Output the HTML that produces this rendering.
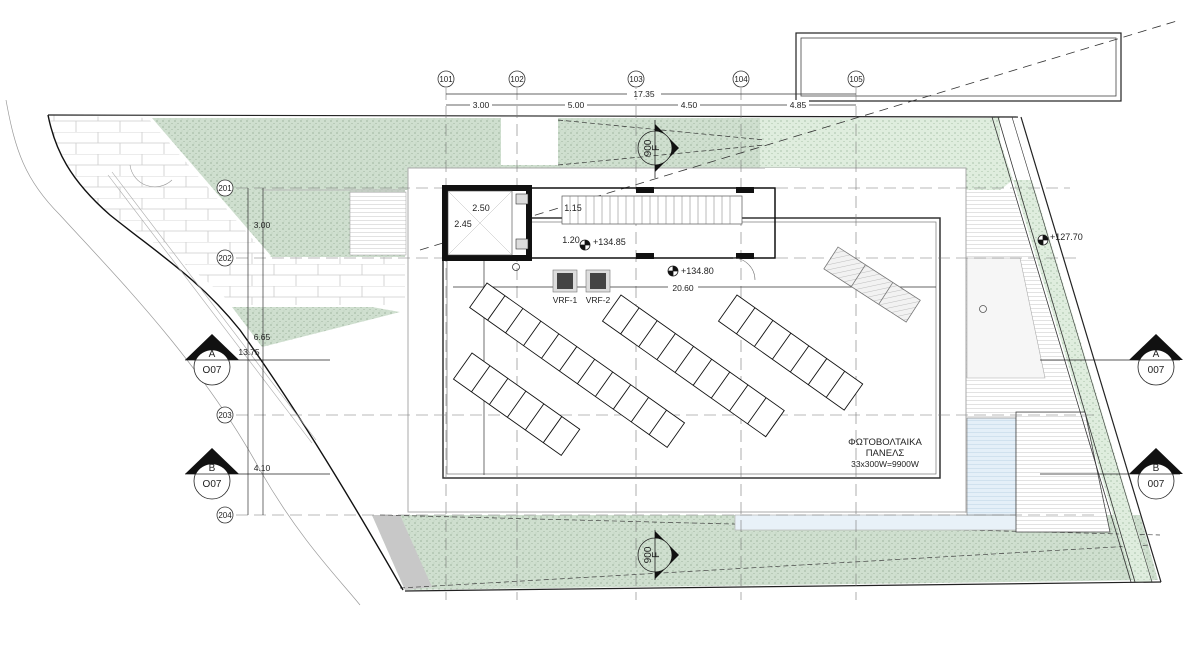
<!DOCTYPE html>
<html><head><meta charset="utf-8"><style>
html,body{margin:0;padding:0;background:#fff;width:1194px;height:662px;overflow:hidden}
svg{display:block}
text{font-family:"Liberation Sans","DejaVu Sans",sans-serif;fill:#222}
</style></head><body>
<svg width="1194" height="662" viewBox="0 0 1194 662" xmlns="http://www.w3.org/2000/svg">
<defs>
<pattern id="dots" width="6" height="6" patternUnits="userSpaceOnUse">
<rect width="6" height="6" fill="#cfdfcf"/>
<circle cx="1" cy="1" r="0.6" fill="#7f9a7f"/><circle cx="4" cy="3.5" r="0.5" fill="#90a890"/><circle cx="2" cy="5" r="0.4" fill="#a0b8a0"/>
</pattern>
<pattern id="dotsL" width="6" height="6" patternUnits="userSpaceOnUse">
<rect width="6" height="6" fill="#dfedde"/>
<circle cx="1" cy="1" r="0.6" fill="#8aa88a"/><circle cx="4" cy="3.5" r="0.5" fill="#9ab69a"/>
</pattern>
<pattern id="brick" width="44" height="22" patternUnits="userSpaceOnUse">
<rect width="44" height="22" fill="#fff"/>
<path d="M0 0H44M0 11H44M10 0V11M32 11V22" stroke="#ccc" stroke-width="0.8" fill="none"/>
</pattern>
<pattern id="hstripe" width="4" height="4" patternUnits="userSpaceOnUse">
<rect width="4" height="4" fill="#fff"/><path d="M0 0.5H4" stroke="#d6d6d6" stroke-width="0.7"/>
</pattern>
<pattern id="pool" width="4" height="4" patternUnits="userSpaceOnUse">
<rect width="4" height="4" fill="#e4eff8"/><path d="M0 0.5H4" stroke="#c8dcea" stroke-width="0.7"/>
</pattern>
<pattern id="diag" width="5" height="5" patternUnits="userSpaceOnUse" patternTransform="rotate(45)">
<rect width="5" height="5" fill="#f2f2f2"/><path d="M0 0V5" stroke="#999" stroke-width="0.6"/>
</pattern>
</defs>

<rect x="796" y="33" width="325" height="68" fill="none" stroke="#222" stroke-width="1.2"/>
<rect x="801" y="38" width="315" height="58" fill="none" stroke="#444" stroke-width="0.8"/>

<path d="M48,115 L150,118 L270,257 L405,257 L405,305 L232,305 C200,270 150,240 110,215 C70,180 55,150 48,115Z" fill="url(#brick)"/>

<path d="M150,118 L1000,118 L1000,190 L405,190 L405,257 L270,257Z" fill="url(#dots)"/>
<rect x="760" y="118" width="240" height="72" fill="url(#dotsL)"/>
<rect x="501" y="118" width="57" height="47" fill="#fff"/>
<rect x="350" y="192" width="56" height="63" fill="url(#hstripe)" stroke="#aaa" stroke-width="0.6"/>
<line x1="263" y1="190" x2="405" y2="190" stroke="#bbb"/>
<path d="M232,307 L372,307 L400,312 L262,347Z" fill="url(#dots)"/>

<path d="M372,515 L1140,515 L1158,580 L405,590Z" fill="url(#dots)"/>
<path d="M372,515 L400,515 L432,587 L405,590Z" fill="#c8c8c8"/>
<path d="M380,515 L1160,535 M400,588 L1150,545" stroke="#444" stroke-width="0.7" stroke-dasharray="5,3" fill="none"/>
<rect x="735" y="515" width="285" height="15" fill="#e8f1f8" stroke="#aaa" stroke-width="0.6"/>

<path d="M1013,180 L1032,180 L1153,582 L1133,582Z" fill="url(#dotsL)"/>
<path d="M992,117 L1000,117 L1000,190 L1013,180Z" fill="url(#dotsL)"/>

<path d="M965,190 L1013,190 L1110,515 L965,515Z" fill="url(#hstripe)"/>
<path d="M967,258 L1020,258 L1045,378 L967,378Z" fill="#f6f6f6" stroke="#aaa" stroke-width="0.6"/>
<circle cx="983" cy="309" r="3.5" fill="none" stroke="#555" stroke-width="0.8"/>
<rect x="967" y="418" width="49" height="97" fill="url(#pool)" stroke="#777" stroke-width="0.6"/>
<path d="M1016,412 L1085,412 L1110,532 L1016,532Z" fill="url(#hstripe)" stroke="#444" stroke-width="0.8"/>

<rect x="408" y="168" width="558" height="344" fill="#fff" stroke="#aaa" stroke-width="1"/>
<rect x="765" y="168" width="35" height="20" fill="#fff"/>
<rect x="443" y="218" width="497" height="260" fill="none" stroke="#333" stroke-width="1.5"/>
<rect x="447" y="222" width="489" height="252" fill="none" stroke="#777" stroke-width="0.7"/>

<path d="M48,115 C55,150 70,180 110,215 C160,255 200,280 240,330 C290,400 340,480 403,590" fill="none" stroke="#111" stroke-width="1.4"/>
<path d="M6,100 C15,150 25,180 60,215 C110,270 200,360 260,470 C300,540 340,580 360,605" fill="none" stroke="#999" stroke-width="0.7"/>
<line x1="48" y1="115" x2="1018" y2="117" stroke="#222" stroke-width="1.2"/>
<line x1="1021" y1="117" x2="1161" y2="582" stroke="#222" stroke-width="1.2"/>
<line x1="992" y1="117" x2="1131" y2="582" stroke="#333" stroke-width="0.8"/>
<line x1="998" y1="117" x2="1135" y2="582" stroke="#333" stroke-width="0.8"/>
<line x1="1012" y1="117" x2="1152" y2="582" stroke="#333" stroke-width="0.6"/>
<line x1="405" y1="591" x2="1161" y2="582" stroke="#222" stroke-width="1.2"/>
<line x1="150" y1="118" x2="270" y2="257" stroke="#fff" stroke-width="3"/>
<line x1="108" y1="175" x2="312" y2="443" stroke="#aaa" stroke-width="0.6"/>
<line x1="112" y1="172" x2="316" y2="440" stroke="#aaa" stroke-width="0.6"/>
<path d="M130,165 A25,25 0 0 0 172,180" fill="none" stroke="#999" stroke-width="0.6"/>

<path d="M420,250 L1180,20" stroke="#333" stroke-width="0.8" stroke-dasharray="9,6" fill="none"/>
<path d="M558,120 L765,140 M558,165 L765,145" stroke="#333" stroke-width="0.7" stroke-dasharray="5,3" fill="none"/>

<g stroke="#777" stroke-width="0.6" stroke-dasharray="12,6" fill="none">
<line x1="446" y1="88" x2="446" y2="600"/><line x1="517" y1="88" x2="517" y2="600"/>
<line x1="636" y1="88" x2="636" y2="600"/><line x1="741" y1="88" x2="741" y2="600"/>
<line x1="856" y1="88" x2="856" y2="600"/>
<line x1="236" y1="188" x2="1070" y2="188"/><line x1="236" y1="258" x2="1080" y2="258"/>
<line x1="236" y1="415" x2="1100" y2="415"/><line x1="236" y1="515" x2="1100" y2="515"/>
</g>
<g fill="#fff" stroke="#333" stroke-width="0.8">
<circle cx="446" cy="79" r="8"/><circle cx="517" cy="79" r="8"/><circle cx="636" cy="79" r="8"/><circle cx="741" cy="79" r="8"/><circle cx="856" cy="79" r="8"/>
<circle cx="225" cy="188" r="8"/><circle cx="225" cy="258" r="8"/><circle cx="225" cy="415" r="8"/><circle cx="225" cy="515" r="8"/>
</g>
<g font-size="8" text-anchor="middle">
<text x="446" y="82">101</text><text x="517" y="82">102</text><text x="636" y="82">103</text><text x="741" y="82">104</text><text x="856" y="82">105</text>
<text x="225" y="191">201</text><text x="225" y="261">202</text><text x="225" y="418">203</text><text x="225" y="518">204</text>
</g>

<g stroke="#333" stroke-width="0.7">
<line x1="446" y1="94" x2="856" y2="94"/><line x1="446" y1="105" x2="856" y2="105"/>
<line x1="248" y1="188" x2="248" y2="515"/><line x1="263" y1="188" x2="263" y2="515"/>
<line x1="453" y1="287" x2="936" y2="287"/>
<line x1="484" y1="258" x2="484" y2="475"/>
</g>
<g font-size="8.5" text-anchor="middle">
<rect x="627" y="89" width="34" height="9" fill="#fff"/><text x="644" y="97">17.35</text>
<rect x="470" y="100" width="22" height="9" fill="#fff"/><text x="481" y="108">3.00</text>
<rect x="565" y="100" width="22" height="9" fill="#fff"/><text x="576" y="108">5.00</text>
<rect x="678" y="100" width="22" height="9" fill="#fff"/><text x="689" y="108">4.50</text>
<rect x="787" y="100" width="22" height="9" fill="#fff"/><text x="798" y="108">4.85</text>
<text x="262" y="228">3.00</text><text x="262" y="340">6.65</text><text x="249" y="355">13.75</text><text x="262" y="471">4.10</text>
<rect x="668" y="283" width="30" height="9" fill="#fff"/><text x="683" y="291">20.60</text>
<text x="473" y="372">9.15</text>
</g>

<rect x="445" y="188" width="330" height="70" fill="none" stroke="#111" stroke-width="1.5"/>
<rect x="445" y="188" width="84" height="70" fill="#fff" stroke="#111" stroke-width="6"/>
<rect x="448" y="191" width="64" height="64" fill="#fff" stroke="#444" stroke-width="0.6"/>
<path d="M448,191 L512,255 M512,191 L448,255" stroke="#bbb" stroke-width="0.5"/>
<rect x="516" y="194" width="12" height="10" fill="#ddd" stroke="#333" stroke-width="0.6"/>
<rect x="516" y="239" width="12" height="10" fill="#ddd" stroke="#333" stroke-width="0.6"/>
<g fill="#111"><rect x="636" y="187" width="18" height="6"/><rect x="736" y="187" width="18" height="6"/><rect x="636" y="253" width="18" height="6"/><rect x="736" y="253" width="18" height="6"/></g>
<rect x="562" y="196" width="180" height="28" fill="#fff" stroke="#555" stroke-width="0.7"/>
<g stroke="#777" stroke-width="0.5">
<path d="M570,196V224M578,196V224M586,196V224M594,196V224M602,196V224M610,196V224M618,196V224M626,196V224M634,196V224M642,196V224M650,196V224M658,196V224M666,196V224M674,196V224M682,196V224M690,196V224M698,196V224M706,196V224M714,196V224M722,196V224M730,196V224"/>
</g>
<line x1="530" y1="258" x2="712" y2="258" stroke="#111" stroke-width="1"/>
<path d="M733,258 A22,22 0 0 1 755,280" fill="none" stroke="#777" stroke-width="0.6"/>
<g font-size="9" text-anchor="middle">
<text x="481" y="211">2.50</text><text x="463" y="227">2.45</text>
<text x="573" y="211">1.15</text><text x="571" y="243">1.20</text>
</g>
<circle cx="516" cy="267" r="3.5" fill="none" stroke="#333" stroke-width="0.8"/>
<g stroke="#222" stroke-width="0.8">
<circle cx="585" cy="245" r="5" fill="#fff"/><path d="M585,240V250M580,245H590"/>
<circle cx="673" cy="271" r="5" fill="#fff"/><path d="M673,266V276M668,271H678"/>
<circle cx="1043" cy="240" r="5" fill="#fff"/><path d="M1043,235V245M1038,240H1048"/>
</g>
<path d="M585,240A5,5 0 0 1 590,245H585Z M585,250A5,5 0 0 1 580,245H585Z" fill="#111"/>
<path d="M673,266A5,5 0 0 1 678,271H673Z M673,276A5,5 0 0 1 668,271H673Z" fill="#111"/>
<path d="M1043,235A5,5 0 0 1 1048,240H1043Z M1043,245A5,5 0 0 1 1038,240H1043Z" fill="#111"/>
<g font-size="9"><text x="593" y="245">+134.85</text><text x="681" y="274">+134.80</text><text x="1050" y="240">+127.70</text></g>

<rect x="553" y="270" width="24" height="22" fill="#ddd" stroke="#777" stroke-width="0.6"/>
<rect x="557" y="273" width="16" height="16" fill="#444"/>
<rect x="586" y="270" width="24" height="22" fill="#ddd" stroke="#777" stroke-width="0.6"/>
<rect x="590" y="273" width="16" height="16" fill="#444"/>
<g font-size="8.5" text-anchor="middle"><text x="565" y="303">VRF-1</text><text x="598" y="303">VRF-2</text></g>

<g fill="#fff" stroke="#111" stroke-width="0.9">
<g transform="translate(487,283) rotate(35.3)"><rect width="242" height="30"/><path d="M22,0V30M44,0V30M66,0V30M88,0V30M110,0V30M132,0V30M154,0V30M176,0V30M198,0V30M220,0V30"/></g>
<g transform="translate(472,353) rotate(35.3)"><rect width="132" height="32"/><path d="M22,0V32M44,0V32M66,0V32M88,0V32M110,0V32"/></g>
<g transform="translate(621,295) rotate(35.3)"><rect width="200" height="32"/><path d="M22.2,0V32M44.4,0V32M66.7,0V32M88.9,0V32M111.1,0V32M133.3,0V32M155.6,0V32M177.8,0V32"/></g>
<g transform="translate(737,295) rotate(35.3)"><rect width="154" height="32"/><path d="M22,0V32M44,0V32M66,0V32M88,0V32M110,0V32M132,0V32"/></g>
</g>
<g transform="translate(838,247) rotate(32.9)"><rect width="98" height="26" fill="url(#diag)" stroke="#777" stroke-width="0.8"/><path d="M32.7,0V26M65.3,0V26" stroke="#777" stroke-width="0.8"/></g>

<g font-size="9.5" text-anchor="middle"><text x="885" y="445">ΦΩΤΟΒΟΛΤΑΙΚΑ</text><text x="885" y="456">ΠΑΝΕΛΣ</text><text x="885" y="467" font-size="8.5">33x300W=9900W</text></g>

<!-- section markers -->
<g stroke="#222" stroke-width="0.8">
<line x1="185" y1="360" x2="330" y2="360"/><line x1="185" y1="474" x2="330" y2="474"/>
<line x1="1040" y1="360" x2="1180" y2="360"/><line x1="1040" y1="474" x2="1180" y2="474"/>
<line x1="655" y1="120" x2="655" y2="178"/><line x1="655" y1="530" x2="655" y2="580"/>
</g>
<g fill="#fff" stroke="#222" stroke-width="0.8">
<circle cx="212" cy="367" r="18"/><circle cx="212" cy="481" r="18"/>
<circle cx="1156" cy="367" r="18"/><circle cx="1156" cy="481" r="18"/>
<circle cx="655" cy="148" r="17" fill="none"/><circle cx="655" cy="555" r="17" fill="none"/>
</g>
<g fill="#111">
<path d="M185,360 L212,334 L239,360 L228,360 A18,18 0 0 0 196,360Z"/>
<path d="M185,474 L212,448 L239,474 L228,474 A18,18 0 0 0 196,474Z"/>
<path d="M1129,360 L1156,334 L1183,360 L1172,360 A18,18 0 0 0 1140,360Z"/>
<path d="M1129,474 L1156,448 L1183,474 L1172,474 A18,18 0 0 0 1140,474Z"/>
<path d="M655,124 L679,148 L655,172 L655,165 A17,17 0 0 0 655,131Z"/>
<path d="M655,531 L679,555 L655,579 L655,572 A17,17 0 0 0 655,538Z"/>
</g>
<g stroke="#222" stroke-width="0.7"><line x1="194" y1="360" x2="230" y2="360"/><line x1="194" y1="474" x2="230" y2="474"/><line x1="1138" y1="360" x2="1174" y2="360"/><line x1="1138" y1="474" x2="1174" y2="474"/></g>
<g font-size="10" text-anchor="middle">
<text x="212" y="357">A</text><text x="212" y="373">O07</text>
<text x="212" y="471">B</text><text x="212" y="487">O07</text>
<text x="1156" y="357">A</text><text x="1156" y="373">007</text>
<text x="1156" y="471">B</text><text x="1156" y="487">007</text>
<text transform="translate(644,148) rotate(90)">006</text><text transform="translate(659,148) rotate(-90)">F</text>
<text transform="translate(644,555) rotate(90)">006</text><text transform="translate(659,555) rotate(-90)">F</text>
</g>
</svg>
</body></html>
